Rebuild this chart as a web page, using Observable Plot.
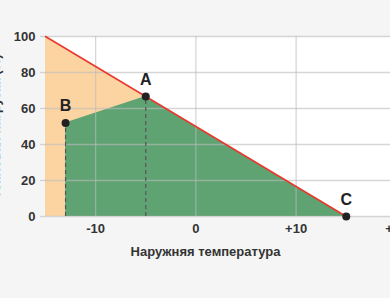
<!DOCTYPE html>
<html>
<head>
<meta charset="utf-8">
<script src="https://cdn.jsdelivr.net/npm/d3@7"></script>
<script src="https://cdn.jsdelivr.net/npm/@observablehq/plot@0.6"></script>
<style>
  html, body { margin: 0; padding: 0; background: #f5f5f5; overflow: hidden; width: 390px; height: 298px; }
  #chart { width: 390px; height: 298px; overflow: hidden; }
  #chart svg { display: block; max-width: none !important; width: 460px !important; height: 298px !important; }
</style>
</head>
<body>
<div id="chart"></div>
<script>
// Control line (red): outdoor temperature vs load
const lineTemp = [-15, 15];
const lineLoad = [100, 0];

// Named points
const pointNames = ["B", "A", "C"];
const pointTemp = [-13, -5, 15];
const pointLoad = [52, 66.7, 0];

// Points with dashed drop lines
const dropNames = ["B", "A"];

// Axes
const xTicks = [-10, 0, 10, 20];
const xTickLabels = ["-10", "0", "+10", "+20"];
const yTicks = [0, 20, 40, 60, 80, 100];
const xLabel = "Наружняя температура";
const yLabel = "Тепловая нагрузка (%)";

const lineData = lineTemp.map((t, i) => ({t, v: lineLoad[i]}));
const pts = pointNames.map((n, i) => ({name: n, t: pointTemp[i], v: pointLoad[i]}));
const drops = pts.filter(d => dropNames.includes(d.name));

const gridColor = "#bbbbbb";
const textColor = "#333333";

const chart = Plot.plot({
  width: 460,
  height: 298,
  marginLeft: 45,
  marginRight: 14,
  marginTop: 36,
  marginBottom: 82,
  style: {background: "transparent", fontFamily: "'Liberation Sans', Arial, sans-serif"},
  x: {domain: [-15, 25]},
  y: {domain: [0, 100]},
  marks: [
    Plot.frame({fill: "white", stroke: null}),
    Plot.areaY(lineData, {x: "t", y: "v", fill: "#fcd4a2"}),
    Plot.areaY(pts, {x: "t", y: "v", fill: "#5fa372"}),
    Plot.gridX(xTicks, {stroke: gridColor, strokeOpacity: 0.6, strokeWidth: 1.3}),
    Plot.gridY(yTicks, {stroke: gridColor, strokeOpacity: 0.6, strokeWidth: 1.3}),
    Plot.axisY(yTicks, {tickSize: 5, tickPadding: 5, stroke: gridColor, strokeOpacity: 0.6, strokeWidth: 1.3, fontSize: 13, fontWeight: "bold", fill: textColor, label: null}),
    Plot.axisX(xTicks, {tickSize: 0, tickPadding: 7, fontSize: 13, fontWeight: "bold", fill: textColor, label: null,
      tickFormat: d => xTickLabels[xTicks.indexOf(d)]}),
    Plot.ruleX(drops, {x: "t", y1: 0, y2: "v", stroke: "#555", strokeWidth: 1.2, strokeDasharray: "4,3"}),
    Plot.line(lineData, {x: "t", y: "v", stroke: "#e8392f", strokeWidth: 1.6}),
    Plot.dot(pts, {x: "t", y: "v", r: 4, fill: "#222", stroke: null}),
    Plot.text(pts, {x: "t", y: "v", text: "name", dy: -17, fontSize: 16, fontWeight: "bold", fill: "#222"}),
    Plot.text([xLabel], {frameAnchor: "bottom-left", textAnchor: "middle", dx: 160, dy: 39, fontSize: 13, fontWeight: "bold", fill: textColor}),
    Plot.text([yLabel], {frameAnchor: "left", textAnchor: "middle", rotate: -90, dx: -46, lineAnchor: "bottom", fontSize: 13, fontWeight: "bold", fill: textColor})
  ]
});
document.getElementById("chart").appendChild(chart);
</script>
</body>
</html>
